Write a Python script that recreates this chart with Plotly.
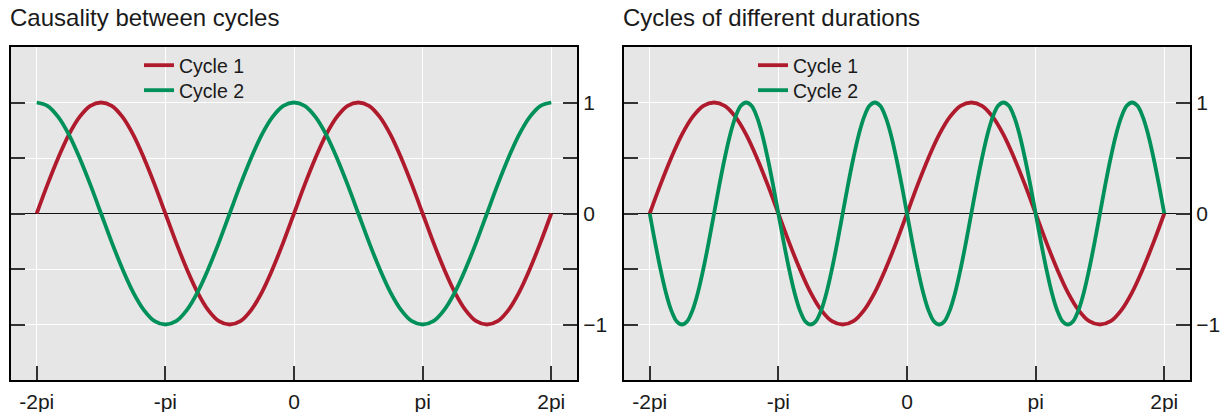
import plotly.graph_objects as go

# sample positions: twelfths of pi (coarse) and twenty-fourths of pi (fine), plotted in units of pi
steps_twelfths = list(range(-24, 25))
steps_24ths = list(range(-48, 49))

tick_vals = [-2, -1, 0, 1, 2]
tick_text = ["-2pi", "-pi", "0", "pi", "2pi"]
ytick_vals = [-1, -0.5, 0, 0.5, 1]
ytick_text = ["\u22121", "", "0", "", "1"]

titles = ["Causality between cycles", "Cycles of different durations"]
series_names = ["Cycle 1", "Cycle 2"]

left_cycle1 = [0, .26, .5, .71, .87, .97, 1, .97, .87, .71, .5, .26,
               0, -.26, -.5, -.71, -.87, -.97, -1, -.97, -.87, -.71, -.5, -.26,
               0, .26, .5, .71, .87, .97, 1, .97, .87, .71, .5, .26,
               0, -.26, -.5, -.71, -.87, -.97, -1, -.97, -.87, -.71, -.5, -.26, 0]
left_cycle2 = [1, .97, .87, .71, .5, .26, 0, -.26, -.5, -.71, -.87, -.97,
               -1, -.97, -.87, -.71, -.5, -.26, 0, .26, .5, .71, .87, .97,
               1, .97, .87, .71, .5, .26, 0, -.26, -.5, -.71, -.87, -.97,
               -1, -.97, -.87, -.71, -.5, -.26, 0, .26, .5, .71, .87, .97, 1]
right_cycle1 = list(left_cycle1)
right_cycle2 = [0, -.26, -.5, -.71, -.87, -.97, -1, -.97, -.87, -.71, -.5, -.26,
                0, .26, .5, .71, .87, .97, 1, .97, .87, .71, .5, .26,
                0, -.26, -.5, -.71, -.87, -.97, -1, -.97, -.87, -.71, -.5, -.26,
                0, .26, .5, .71, .87, .97, 1, .97, .87, .71, .5, .26,
                0, -.26, -.5, -.71, -.87, -.97, -1, -.97, -.87, -.71, -.5, -.26,
                0, .26, .5, .71, .87, .97, 1, .97, .87, .71, .5, .26,
                0, -.26, -.5, -.71, -.87, -.97, -1, -.97, -.87, -.71, -.5, -.26,
                0, .26, .5, .71, .87, .97, 1, .97, .87, .71, .5, .26, 0]

RED = "#b01a2d"
GREEN = "#00915a"
FONT = "Liberation Sans, Arial, sans-serif"
TXT = "#1a1a1a"

x12 = [k / 12 for k in steps_twelfths]
x24 = [k / 24 for k in steps_24ths]

# page body margin is removed (post_script), so figure pixels == page pixels
W, H = 1220, 412
PL, PR, PT, PB = 11, 1190, 47, 380          # plot block edges in page pixels
L, T = PL, PT
R = W - PR
B = H - PB
pw = W - L - R
ph = H - T - B

def px_x(page_x):
    return (page_x - PL) / pw

def px_y(page_y):
    return 1 - (page_y - PT) / ph

d1 = [0, px_x(577)]
d2 = [px_x(624), 1]

fig = go.Figure()
panels = [((x12, left_cycle1), (x12, left_cycle2), "x", "y", ("legend", "legend2")),
          ((x12, right_cycle1), (x24, right_cycle2), "x2", "y2", ("legend3", "legend4"))]
for s1, s2, xa, ya, lgs in panels:
    for (xs, vals), name, col, lg in [(s1, series_names[0], RED, lgs[0]),
                                      (s2, series_names[1], GREEN, lgs[1])]:
        fig.add_trace(go.Scatter(x=xs, y=vals, mode="lines", name=name,
                                 line=dict(color=col, width=3.8, shape="spline", smoothing=1.0),
                                 xaxis=xa, yaxis=ya, legend=lg))

def xax(domain, anchor):
    return dict(domain=domain, anchor=anchor, range=[-2.2, 2.2], automargin=False,
                tickmode="array", tickvals=tick_vals, ticktext=tick_text,
                ticks="inside", ticklen=14, tickwidth=1.5, tickcolor="#333",
                ticklabelstandoff=2,
                showgrid=True, gridcolor="white", gridwidth=1.2,
                showline=True, linecolor="black", linewidth=2, mirror=True,
                zeroline=False, tickfont=dict(size=21, color=TXT, family=FONT))

def yax(anchor):
    return dict(domain=[0, 1], anchor=anchor, range=[-1.5, 1.5], side="right", automargin=False,
                tickmode="array", tickvals=ytick_vals, ticktext=ytick_text,
                ticks="inside", ticklen=14, tickwidth=1.5, tickcolor="#333",
                showgrid=True, gridcolor="white", gridwidth=1.2,
                showline=True, linecolor="black", linewidth=2, mirror="ticks",
                zeroline=True, zerolinecolor="#111", zerolinewidth=1,
                tickfont=dict(size=21, color=TXT, family=FONT))

leg_common = dict(bgcolor="rgba(0,0,0,0)", font=dict(size=19.5, color=TXT, family=FONT),
                  xanchor="left", yanchor="top", tracegroupgap=0)

fig.update_layout(
    width=W, height=H,
    margin=dict(l=L, r=R, t=T, b=B, autoexpand=False),
    paper_bgcolor="white", plot_bgcolor="#e6e6e6",
    font=dict(family=FONT, color=TXT),
    xaxis=xax(d1, "y"), yaxis=yax("x"),
    xaxis2=xax(d2, "y2"), yaxis2=yax("x2"),
    legend=dict(x=px_x(139), y=px_y(46), **leg_common),
    legend2=dict(x=px_x(139), y=px_y(71), **leg_common),
    legend3=dict(x=px_x(753), y=px_y(46), **leg_common),
    legend4=dict(x=px_x(753), y=px_y(71), **leg_common),
    annotations=[
        dict(text=titles[0], xref="paper", yref="paper", x=px_x(8), y=px_y(17),
             xanchor="left", yanchor="middle", showarrow=False,
             font=dict(size=24, color=TXT, family=FONT)),
        dict(text=titles[1], xref="paper", yref="paper", x=px_x(621), y=px_y(17),
             xanchor="left", yanchor="middle", showarrow=False,
             font=dict(size=24, color=TXT, family=FONT)),
    ],
    showlegend=True,
)

fig.write_html("out.html", config={"displayModeBar": False},
               post_script="document.body.style.margin='0';document.body.style.overflow='hidden';")
